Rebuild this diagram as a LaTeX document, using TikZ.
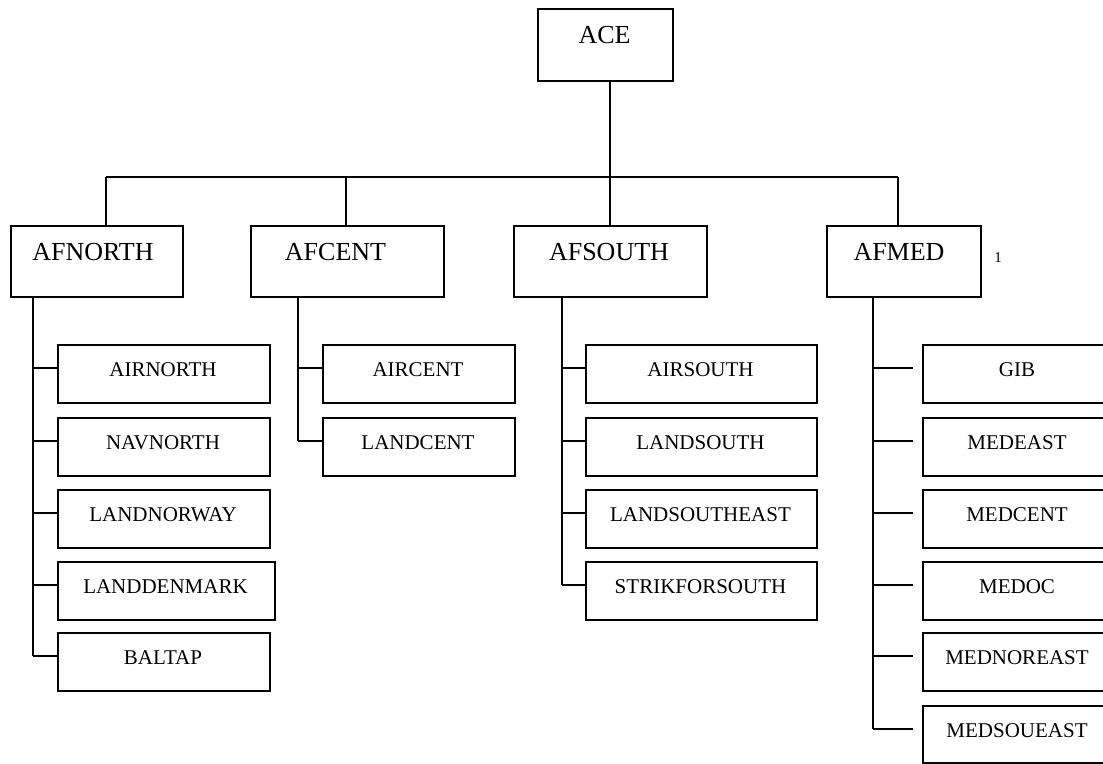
\documentclass[tikz,border=0pt]{standalone}
\usepackage{fontspec}
\setmainfont{Liberation Serif}
\begin{document}
\begin{tikzpicture}[x=1pt,y=-1pt,line width=1.8pt,
  box/.style={draw,rectangle,inner sep=0pt,anchor=north west},
  topbox/.style={box,minimum height=71pt},
  chbox/.style={box,minimum height=58pt},
  toptext/.style={anchor=base,inner sep=0pt,font=\fontsize{26}{30}\selectfont},
  chtext/.style={anchor=base,inner sep=0pt,font=\fontsize{21}{25}\selectfont},
  link/.style={draw,line width=1.8pt}]
\useasboundingbox (0,0) rectangle (1103,763);

% top
\node[box,minimum width=135pt,minimum height=72pt] (ace) at (537,8) {};
\node[toptext] (ace-t) at (604.5,43) {ACE};

% level 1
\node[topbox,minimum width=172pt] (afnorth) at (10,225) {};
\node[toptext] (afnorth-t) at (93,260) {AFNORTH};
\node[topbox,minimum width=193pt] (afcent) at (250,225) {};
\node[toptext] (afcent-t) at (335.5,260) {AFCENT};
\node[topbox,minimum width=193pt] (afsouth) at (513,225) {};
\node[toptext] (afsouth-t) at (609,260) {AFSOUTH};
\node[topbox,minimum width=154pt] (afmed) at (826,225) {};
\node[toptext] (afmed-t) at (899,260) {AFMED};
\node[anchor=base,inner sep=0pt,font=\fontsize{15}{18}\selectfont] (note) at (998,262) {1};

% bus
\coordinate (dN) at (106,177);
\coordinate (dC) at (346,177);
\coordinate (dS) at (610,177);
\coordinate (dM) at (898,177);
\draw[link] (ace.south -| dS) -- (dS);
\draw[link] (dN) -- (dM);
\draw[link] (dN) -- (dN |- afnorth.north);
\draw[link] (dC) -- (dC |- afcent.north);
\draw[link] (dS) -- (dS |- afsouth.north);
\draw[link] (dM) -- (dM |- afmed.north);

% AFNORTH children
\node[chbox,minimum width=212pt] (airnorth) at (57,344) {};
\node[chtext] (airnorth-t) at (163,376) {AIRNORTH};
\node[chbox,minimum width=212pt] (navnorth) at (57,417) {};
\node[chtext] (navnorth-t) at (163,449) {NAVNORTH};
\node[chbox,minimum width=212pt] (landnorway) at (57,489) {};
\node[chtext] (landnorway-t) at (163,521) {LANDNORWAY};
\node[chbox,minimum width=217pt] (landdenmark) at (57,561) {};
\node[chtext] (landdenmark-t) at (165.5,593) {LANDDENMARK};
\node[chbox,minimum width=212pt] (baltap) at (57,632) {};
\node[chtext] (baltap-t) at (163,664) {BALTAP};

\coordinate (tN) at ([xshift=23pt]afnorth.south west);
\foreach \c in {airnorth,navnorth,landnorway,landdenmark,baltap}{
  \coordinate (s-\c) at ([yshift=-24pt]\c.north west);
  \draw[link] (s-\c -| tN) -- (s-\c);
}
\draw[link] (tN) -- (s-baltap -| tN);

% AFCENT children
\node[chbox,minimum width=192pt] (aircent) at (322,344) {};
\node[chtext] (aircent-t) at (418,376) {AIRCENT};
\node[chbox,minimum width=192pt] (landcent) at (322,417) {};
\node[chtext] (landcent-t) at (418,449) {LANDCENT};

\coordinate (tC) at ([xshift=48pt]afcent.south west);
\foreach \c in {aircent,landcent}{
  \coordinate (s-\c) at ([yshift=-24pt]\c.north west);
  \draw[link] (s-\c -| tC) -- (s-\c);
}
\draw[link] (tC) -- (s-landcent -| tC);

% AFSOUTH children
\node[chbox,minimum width=231pt] (airsouth) at (585,344) {};
\node[chtext] (airsouth-t) at (700.5,376) {AIRSOUTH};
\node[chbox,minimum width=231pt] (landsouth) at (585,417) {};
\node[chtext] (landsouth-t) at (700.5,449) {LANDSOUTH};
\node[chbox,minimum width=231pt] (landsoutheast) at (585,489) {};
\node[chtext] (landsoutheast-t) at (700.5,521) {LANDSOUTHEAST};
\node[chbox,minimum width=231pt] (strikforsouth) at (585,561) {};
\node[chtext] (strikforsouth-t) at (700.5,593) {STRIKFORSOUTH};

\coordinate (tS) at ([xshift=49pt]afsouth.south west);
\foreach \c in {airsouth,landsouth,landsoutheast,strikforsouth}{
  \coordinate (s-\c) at ([yshift=-24pt]\c.north west);
  \draw[link] (s-\c -| tS) -- (s-\c);
}
\draw[link] (tS) -- (s-strikforsouth -| tS);

% AFMED children
\node[chbox,minimum width=190pt] (gib) at (922,344) {};
\node[chtext] (gib-t) at (1017,376) {GIB};
\node[chbox,minimum width=190pt] (medeast) at (922,417) {};
\node[chtext] (medeast-t) at (1017,449) {MEDEAST};
\node[chbox,minimum width=190pt] (medcent) at (922,489) {};
\node[chtext] (medcent-t) at (1017,521) {MEDCENT};
\node[chbox,minimum width=190pt] (medoc) at (922,561) {};
\node[chtext] (medoc-t) at (1017,593) {MEDOC};
\node[chbox,minimum width=190pt] (mednoreast) at (922,632) {};
\node[chtext] (mednoreast-t) at (1017,664) {MEDNOREAST};
\node[chbox,minimum width=190pt,minimum height=57pt] (medsoueast) at (922,705) {};
\node[chtext] (medsoueast-t) at (1017,737) {MEDSOUEAST};

\coordinate (tM) at ([xshift=47pt]afmed.south west);
\foreach \c in {gib,medeast,medcent,medoc,mednoreast,medsoueast}{
  \coordinate (s-\c) at ([xshift=-9pt,yshift=-24pt]\c.north west);
  \draw[link] (s-\c -| tM) -- (s-\c);
}
\draw[link] (tM) -- (s-medsoueast -| tM);
\end{tikzpicture}
\end{document}
